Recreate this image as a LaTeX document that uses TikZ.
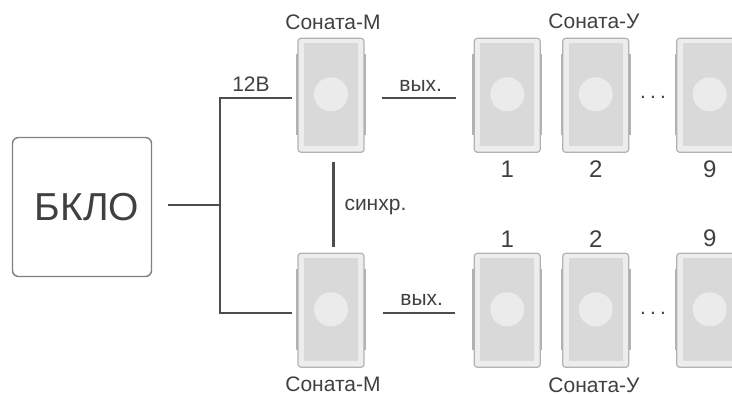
\documentclass[tikz,border=0pt]{standalone}
\usepackage{fontspec}
\setmainfont{Liberation Sans}
\usetikzlibrary{positioning}
\definecolor{wirecol}{HTML}{4D4D4D}
\definecolor{txtcol}{HTML}{404040}
\newcommand{\gapdots}{.\hspace{4.2pt}.\hspace{4.2pt}.}
\tikzset{
  wire/.style={draw=wirecol,line width=2.4pt},
  lbl/.style={text=txtcol,font=\fontsize{21}{21}\selectfont,inner sep=0pt},
  numlbl/.style={lbl,font=\fontsize{24}{24}\selectfont},
  dotlbl/.style={lbl,anchor=base},
  bigbox/.style={draw=black!50,line width=1.4pt,rounded corners=6pt,minimum size=139pt,inner sep=0pt,text=txtcol,font=\fontsize{39}{39}\selectfont},
  sonata/.pic={
    \fill[black!30] (-35,-40) rectangle (35,41);
    \node[draw=black!30,fill=black!7,line width=1.2pt,rounded corners=3pt,minimum width=66pt,minimum height=114pt,inner sep=0pt] (body) at (0,1) {};
    \fill[black!15] (-27,-51.5) rectangle (27,51.5);
    \fill[black!8] (0,0) circle (17);
  }
}
\begin{document}
\begin{tikzpicture}[x=1pt,y=-1pt]
  \useasboundingbox (0,0) rectangle (732,394);
  \clip (0,0) rectangle (732,394);

  \node [bigbox] (bklo) at (82,207) {\hspace{10pt}БКЛО};
  \coordinate (jn) at (220,205);

  \pic (m1) at (331,94.3) {sonata};
  \pic (m2) at (331,309.3) {sonata};
  \foreach \n/\x/\t in {1/507.3/1,2/595.7/2,9/709.7/9} {
    \pic (a\n) at (\x,94.3) {sonata};
    \pic (b\n) at (\x,309.3) {sonata};
    \node [numlbl,below=8pt of a\n body] (na\n) {\t};
    \node [numlbl,above=5.5pt of b\n body] (nb\n) {\t};
  }

  \draw[wire,shorten <=16pt] (bklo.east |- jn) -- (jn);
  \draw[wire,shorten >=5pt] (jn) |- node[lbl,pos=0.7,above=5pt] (lv) {12В} ([yshift=-2.4pt]m1body.west);
  \draw[wire,shorten >=5pt] (jn) |- ([yshift=-2.7pt]m2body.west);
  \draw[wire,shorten <=9pt,shorten >=6pt] ([xshift=2.3pt]m1body.south) -- node[lbl,right=10pt,yshift=-4pt] (sy) {синхр.} ([xshift=2.3pt]m2body.north);
  \draw[wire,shorten <=17pt,shorten >=18pt] ([yshift=-2.4pt]m1body.east) -- node[lbl,above=5.5pt,xshift=1.5pt] (o1) {вых.} ([yshift=-2.4pt]a1body.west);
  \draw[wire,shorten <=18pt,shorten >=19pt] ([yshift=-2.7pt]m2body.east) -- node[lbl,above=6pt,xshift=2.5pt] (o2) {вых.} ([yshift=-2.7pt]b1body.west);

  \node [lbl,above=7.5pt of m1body,xshift=2pt] (tm1) {Соната-М};
  \node [lbl,below=9pt of m2body,xshift=2pt] (tm2) {Соната-М};
  \node [lbl,anchor=base] (ta) at (594,28.5) {Соната-У};
  \node [lbl,anchor=base] (tb) at (594,392.5) {Соната-У};
  \node [dotlbl] (da) at (653,98.7) {\gapdots};
  \node [dotlbl] (db) at (653,314) {\gapdots};
\end{tikzpicture}
\end{document}
